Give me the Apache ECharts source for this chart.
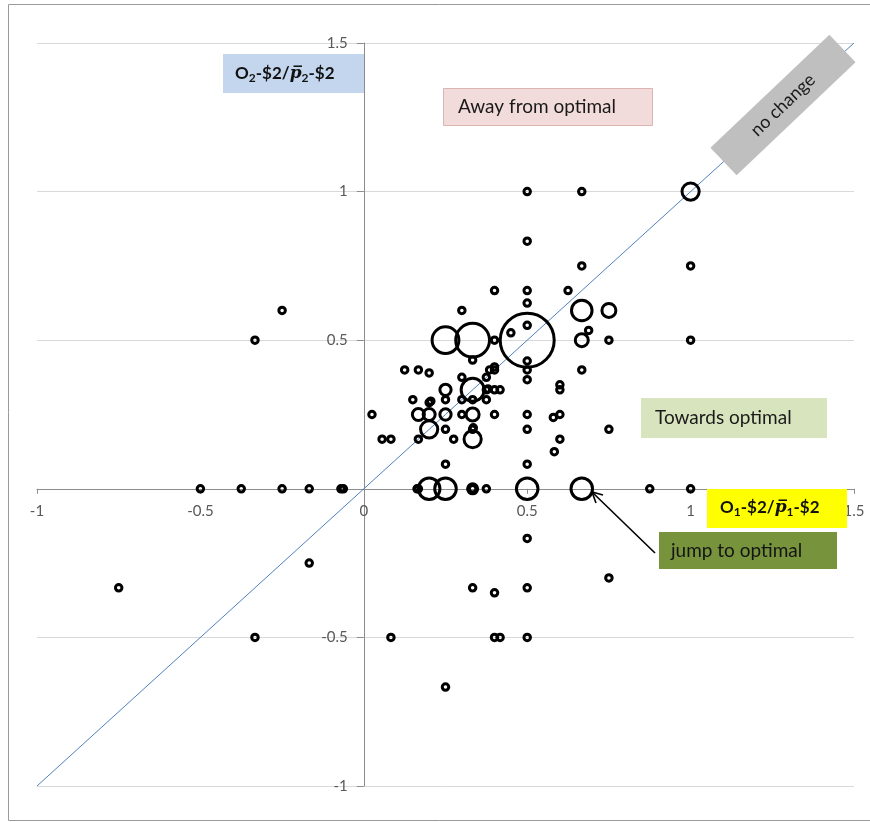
<!DOCTYPE html>
<html><head><meta charset="utf-8">
<script src="https://cdn.jsdelivr.net/npm/echarts@6/dist/echarts.min.js"></script>
<style>html,body{margin:0;padding:0;background:#fff}#c{width:870px;height:822px}</style>
</head><body><div id="c"></div>
<script>
// ---- data ----
const xTicks = [-1, -0.5, 0, 0.5, 1, 1.5];
const yTicks = [-1, -0.5, 0, 0.5, 1, 1.5];
const pointX = [-0.75,-0.5,-0.375,-0.25,-0.167,-0.0625,-0.07,-0.167,-0.333,0.083,-0.333,-0.25,
  0.025,0.056,0.083,0.125,0.167,0.2,0.15,0.2,0.205,0.167,0.2,0.25,0.25,0.25,0.25,0.25,0.2,0.167,0.275,
  0.3,0.3,0.3,0.3,0.333,0.333,0.333,0.333,0.333,0.335,0.333,0.375,0.385,0.4,0.4,0.375,0.38,0.4,0.417,0.375,0.4,
  0.4,0.4,0.45,0.5,0.5,0.5,0.5,0.5,0.5,0.5,0.5,0.5,0.5,0.5,0.5,
  0.58,0.6,0.6,0.6,0.6,0.583,0.625,0.667,0.667,0.667,0.75,0.667,0.688,0.75,1,0.667,0.75,1,1,
  0.167,0.163,0.2,0.25,0.333,0.333,0.375,0.5,0.667,0.875,1,0.25,0.333,
  0.5,0.333,0.4,0.5,0.75,0.4,0.417,0.5,0.25];
const pointY = [-0.333,0,0,0,0,0,0,-0.25,-0.5,-0.5,0.5,0.6,
  0.25,0.167,0.167,0.4,0.4,0.39,0.3,0.29,0.295,0.25,0.25,0.25,0.3,0.333,0.2,0.083,0.2,0.167,0.167,
  0.6,0.375,0.3,0.25,0.433,0.333,0.3,0.25,0.2,0.205,0.167,0.375,0.4,0.4,0.41,0.333,0.336,0.333,0.333,0.3,0.25,
  0.5,0.667,0.525,0.55,0.625,0.667,0.833,1,0.43,0.4,0.367,0.25,0.2,0.083,0.5,
  0.24,0.25,0.35,0.333,0.167,0.125,0.667,1,0.75,0.6,0.6,0.5,0.533,0.5,0.5,0.4,0.2,1,0.75,
  0,0,0,0,0,0,0,0,0,0,0,0.5,0.5,
  -0.167,-0.333,-0.35,-0.333,-0.3,-0.5,-0.5,-0.5,-0.667];
const pointWeight = [1,1,1,1,1,1,1,1,1,1,1,1,
  1,1,1,1,1,1,1,1,1,3.4,3.4,3,1,3,1,1,7,1,1,
  1,1,1,1,1,12.5,1,4,1,1,7,1,1,1,1,1,1,1,1,1,1,
  1,1,1,1,1,1,1,1,1,1,1,1,1,1,69,
  1,1,1,1,1,1,1,1,1,10,4.6,4,1,1,1,1,1,7,1,
  1,1,11,11,1,2.4,1,11,11,1,1,17,27,
  1,1,1,1,1,1,1,1,1];
const diagX = [-1, 1.5];
const diagY = [-1, 1.5];

// ---- chart ----
const W = 870, H = 822;
const G = {left: 37, right: 16, top: 43, bottom: 36};
const gridW = W - G.left - G.right, gridH = H - G.top - G.bottom;
const xMin = xTicks[0], xMax = xTicks[xTicks.length - 1];
const yMin = yTicks[0], yMax = yTicks[yTicks.length - 1];
// place the axes where the other axis is zero
const xAxisOffset = -gridH * (0 - yMin) / (yMax - yMin);
const yAxisOffset = -gridW * (0 - xMin) / (xMax - xMin);

const chart = echarts.init(document.getElementById('c'), null, {renderer: 'canvas'});
const points = pointX.map((x, i) => [x, pointY[i], pointWeight[i]]);
const diag = diagX.map((x, i) => [x, diagY[i]]);
const FONT = 'Lato, "Open Sans", sans-serif';

const axisRich = () => ({
  b: {fontFamily: FONT, fontWeight: 'bold', fontSize: 17, lineHeight: 20, fill: '#111', verticalAlign: 'middle'},
  s: {fontFamily: FONT, fontWeight: 'bold', fontSize: 12, lineHeight: 11, fill: '#111', verticalAlign: 'bottom'},
  p: {fontFamily: '"DejaVu Serif"', fontStyle: 'italic', fontWeight: 'bold', fontSize: 17, lineHeight: 20, fill: '#111', verticalAlign: 'middle'}
});
const axisText = (n) => '{b|O}{s|' + n + '}{b|-$2/}{p|p\u0305}{s|' + n + '}{b|-$2}';

chart.setOption({
  animation: false,
  backgroundColor: '#ffffff',
  grid: {left: G.left, right: G.right, top: G.top, bottom: G.bottom, containLabel: false, outerBoundsMode: 'none'},
  xAxis: {
    type: 'value', min: xMin, max: xMax, interval: 0.5, position: 'bottom', offset: xAxisOffset,
    axisLine: {onZero: false, lineStyle: {color: '#8c8c8c', width: 1}},
    axisTick: {show: true, length: 5, lineStyle: {color: '#8c8c8c'}},
    axisLabel: {color: '#595959', fontFamily: FONT, fontSize: 15, margin: 15},
    splitLine: {show: false}
  },
  yAxis: {
    type: 'value', min: yMin, max: yMax, interval: 0.5, position: 'left', offset: yAxisOffset,
    axisLine: {onZero: false, lineStyle: {color: '#8c8c8c', width: 1}},
    axisTick: {show: true, length: 7, lineStyle: {color: '#8c8c8c'}},
    axisLabel: {color: '#595959', fontFamily: FONT, fontSize: 15, margin: 16,
      formatter: v => (v === 0 ? '' : String(v))},
    splitLine: {show: true, lineStyle: {color: '#d9d9d9', width: 1}}
  },
  series: [
    {type: 'line', data: diag, showSymbol: false, silent: true, z: 1,
     lineStyle: {color: '#4f81bd', width: 1}},
    {type: 'scatter', data: points, z: 3,
     symbol: 'circle',
     symbolSize: v => 6.5 * Math.sqrt(v[2]),
     itemStyle: {color: 'rgba(0,0,0,0)', borderColor: '#000', borderWidth: 3, opacity: 1}}
  ],
  graphic: [
    {type: 'rect', z: 0, silent: true, shape: {x: 8.5, y: 4.5, width: 900, height: 816},
     style: {fill: 'none', stroke: '#9a9a9a', lineWidth: 1}},
    // y-axis title box
    {type: 'rect', z: 100, shape: {x: 223, y: 54, width: 141, height: 39}, style: {fill: '#c3d6ee'}},
    {type: 'text', z: 101, x: 235, y: 74, style: {text: axisText('2'), rich: axisRich(), verticalAlign: 'middle', textVerticalAlign: 'middle'}},
    // away from optimal
    {type: 'rect', z: 100, shape: {x: 443.5, y: 88.5, width: 209, height: 37}, style: {fill: '#f2dcdb', stroke: '#dcb4b2', lineWidth: 1}},
    {type: 'text', z: 101, x: 458, y: 107, style: {text: 'Away from optimal', font: '19px ' + FONT, fill: '#1a1a1a', verticalAlign: 'middle', textVerticalAlign: 'middle'}},
    // no change (rotated)
    {type: 'group', z: 100, x: 783, y: 105, rotation: 43.5 * Math.PI / 180, children: [
      {type: 'rect', z: 100, shape: {x: -82, y: -19, width: 164, height: 38}, style: {fill: '#bfbfbf'}},
      {type: 'text', z: 101, x: 0, y: 0, style: {text: 'no change', font: '18px ' + FONT, fill: '#1a1a1a', align: 'center', verticalAlign: 'middle', textAlign: 'center', textVerticalAlign: 'middle'}}
    ]},
    // towards optimal
    {type: 'rect', z: 100, shape: {x: 641, y: 398, width: 186, height: 40}, style: {fill: '#d7e4bd'}},
    {type: 'text', z: 101, x: 655, y: 418, style: {text: 'Towards optimal', font: '19px ' + FONT, fill: '#1a1a1a', verticalAlign: 'middle', textVerticalAlign: 'middle'}},
    // x-axis title
    {type: 'rect', z: 100, shape: {x: 707, y: 489, width: 140, height: 39}, style: {fill: '#ffff00'}},
    {type: 'text', z: 101, x: 720, y: 508, style: {text: axisText('1'), rich: axisRich(), verticalAlign: 'middle', textVerticalAlign: 'middle'}},
    // jump to optimal
    {type: 'rect', z: 100, shape: {x: 659, y: 532, width: 178, height: 37}, style: {fill: '#77933c'}},
    {type: 'text', z: 101, x: 671, y: 551, style: {text: 'jump to optimal', font: '19px ' + FONT, fill: '#141414', verticalAlign: 'middle', textVerticalAlign: 'middle'}},
    // arrow
    {type: 'line', z: 101, shape: {x1: 655, y1: 553, x2: 592, y2: 492}, style: {stroke: '#000', lineWidth: 1.6}},
    {type: 'polyline', z: 101, shape: {points: [[603, 495], [592, 492], [596, 503]]}, style: {stroke: '#000', lineWidth: 1.6, fill: 'none'}}
  ]
});
</script>
</body></html>
